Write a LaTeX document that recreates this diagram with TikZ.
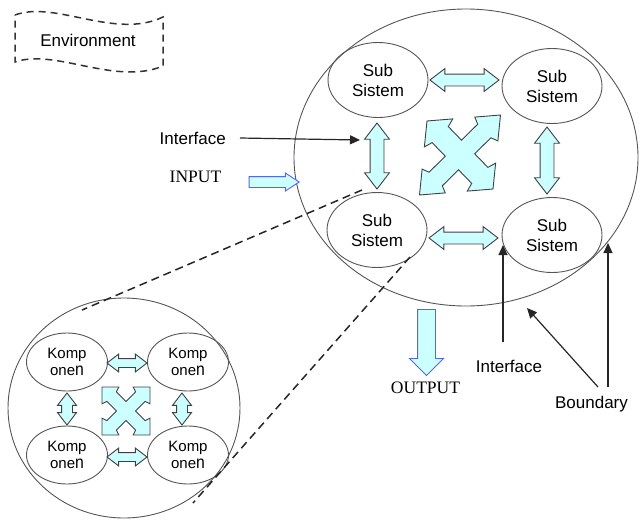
\documentclass[tikz,border=0pt]{standalone}
\usepackage{fontspec}
\usepackage{graphicx}
\setmainfont{Liberation Sans}
\newfontfamily\serifface{Liberation Serif}
\usetikzlibrary{shapes.geometric,shapes.arrows,arrows.meta,calc}
\definecolor{cyanfill}{RGB}{204,255,255}
\definecolor{blueline}{RGB}{80,100,255}
\definecolor{edgegray}{RGB}{85,85,85}
\tikzset{
 pics/quadarrow/.style={code={
  \draw[quadstyle] (0.4,0) -- (0.8,0.4) -- (1,0.3) -- (1,1) -- (0.3,1) -- (0.4,0.8) -- (0,0.4)
   -- (-0.4,0.8) -- (-0.3,1) -- (-1,1) -- (-1,0.3) -- (-0.8,0.4) -- (-0.4,0)
   -- (-0.8,-0.4) -- (-1,-0.3) -- (-1,-1) -- (-0.3,-1) -- (-0.4,-0.8) -- (0,-0.4)
   -- (0.4,-0.8) -- (0.3,-1) -- (1,-1) -- (1,-0.3) -- (0.8,-0.4) -- cycle;
 }},
 quadstyle/.style={draw=black!75, fill=cyanfill, line width=0.9pt, line join=miter}
}
\newcommand\tallN{\scalebox{1.05}[1.18]{n}}
\begin{document}
\begin{tikzpicture}[x=1pt,y=-1pt,
 lab/.style={font=\fontsize{17}{20}\selectfont, inner sep=0pt},
 serlab/.style={font=\serifface\fontsize{17.5}{20}\selectfont, inner sep=0pt},
 sub/.style={ellipse, draw=edgegray, line width=0.9pt, minimum width=100pt, minimum height=75pt, align=center, font=\fontsize{17}{20}\selectfont, inner sep=0pt},
 komp/.style={ellipse, draw=edgegray, line width=0.9pt, minimum width=81pt, minimum height=58pt, align=center, font=\fontsize{15}{17.5}\selectfont, inner sep=0pt},
 dbl/.style={double arrow, draw=black!75, fill=cyanfill, line width=0.9pt, inner xsep=0pt, outer sep=0pt, double arrow tip angle=75},
 sgl/.style={single arrow, draw=blueline, fill=cyanfill, line width=0.9pt, inner xsep=0pt, outer sep=0pt},
 pointer/.style={line width=1.2pt, draw=black!85, -{Triangle[length=10pt,width=9pt]}},
 zoomline/.style={line width=1.5pt, draw=black!85, dash pattern=on 8pt off 5pt},
 envline/.style={line width=1.5pt, draw=black!80, dash pattern=on 7pt off 5pt}
]
\useasboundingbox (0,0) rectangle (640,520);

% Environment banner
\draw[envline] (15,15) .. controls (55,0) and (115,40) .. (163,17) -- (163,66)
  .. controls (115,86) and (55,48) .. (15,62) -- cycle;
\node[lab] (env) at (88,40) {Environment};

% big system
\node[ellipse, draw=edgegray, line width=0.9pt, minimum width=344pt, minimum height=297pt, inner sep=0pt] (sys) at (466,157.5) {};

\node[sub] (s1) at (378,80) {Sub\\Sistem};
\node[sub] (s2) at (552,86) {Sub\\Sistem};
\node[sub] (s3) at (377,230) {Sub\\Sistem};
\node[sub] (s4) at (552,235) {Sub\\Sistem};

\node[dbl, minimum height=69pt, inner ysep=5.5pt, double arrow head extend=5.5pt] (a12) at (464.5,80) {};
\node[dbl, minimum height=69pt, inner ysep=5.5pt, double arrow head extend=5.5pt] (a34) at (463.5,238) {};
\node[dbl, rotate=90, minimum height=66pt, inner ysep=6.5pt, double arrow head extend=5.5pt] (a13) at (377,156) {};
\node[dbl, rotate=90, minimum height=67pt, inner ysep=6.5pt, double arrow head extend=5.5pt] (a24) at (547,160.5) {};

\begin{scope}[shift={(460,155)}, x={(36.75pt,3pt)}, y={(3.75pt,37pt)}]
 \pic {quadarrow};
\end{scope}

% small circle with components
\node[ellipse, draw=edgegray, line width=0.9pt, minimum width=232pt, minimum height=220pt, inner sep=0pt] (zoomc) at (124,408) {};
\node[komp] (k1) at (67,362) {Komp\\one\tallN};
\node[komp] (k2) at (188,362) {Komp\\one\tallN};
\node[komp] (k3) at (67,455) {Komp\\one\tallN};
\node[komp] (k4) at (188,455) {Komp\\one\tallN};

\node[dbl, minimum height=40pt, inner ysep=4pt, double arrow head extend=4.5pt] (b12) at (127,363) {};
\node[dbl, minimum height=40pt, inner ysep=4pt, double arrow head extend=4.5pt] (b34) at (127,457) {};
\node[dbl, rotate=90, minimum height=32pt, inner ysep=5pt, double arrow head extend=4pt] (b13) at (67,409) {};
\node[dbl, rotate=90, minimum height=32pt, inner ysep=5pt, double arrow head extend=4pt] (b24) at (182,409) {};

\begin{scope}[shift={(126,411)}, x={(24pt,0pt)}, y={(0pt,24pt)}]
 \pic {quadarrow};
\end{scope}

% zoom lines
\coordinate (z1a) at (362,190);
\coordinate (z1b) at (82,310);
\coordinate (z2a) at (410,257);
\coordinate (z2b) at (193,503);
\draw[zoomline] (z1a) -- (z1b);
\draw[zoomline] (z2a) -- (z2b);

% interface (top)
\node[lab, anchor=east] (if1) at (226,138) {Interface};
\coordinate (if1tip) at (360,140);
\draw[pointer] ($(if1.east)+(14,0)$) -- (if1tip);

% input
\node[serlab] (inp) at (195.5,177) {INPUT};
\node[sgl, minimum height=50pt, inner ysep=5pt, single arrow head extend=3.5pt, single arrow tip angle=66] (inarr) at (270,182) {};

% output
\node[sgl, rotate=-90, minimum height=66pt, inner ysep=8.5pt, single arrow head extend=8pt, single arrow tip angle=90] (outarr) at (426.5,338) {};
\node[serlab] (outp) at (425.5,388) {OUTPUT};

% interface (bottom)
\node[lab] (if2) at (509,366) {Interface};
\coordinate (if2tail) at (503,342);
\coordinate (if2tip) at (503,245);
\draw[pointer] (if2tail) -- (if2tip);

% boundary
\node[lab] (bnd) at (591.5,404) {Boundary};
\coordinate (bd1tail) at (598,387);
\coordinate (bd1tip) at (527,308);
\coordinate (bd2tail) at (608,387);
\coordinate (bd2tip) at (608,243);
\draw[pointer] (bd1tail) -- (bd1tip);
\draw[pointer] (bd2tail) -- (bd2tip);
\end{tikzpicture}
\end{document}
